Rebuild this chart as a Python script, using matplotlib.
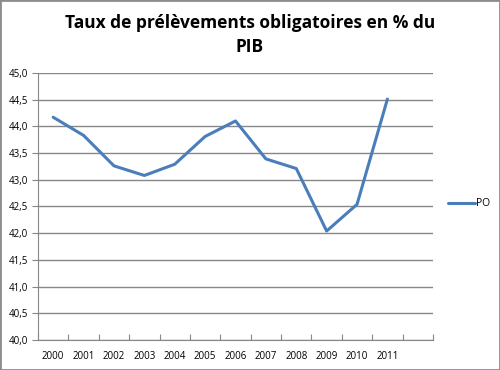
import numpy as np
import matplotlib.pyplot as plt

# PO values
years = ['2000', '2001', '2002', '2003', '2004', '2005',
         '2006', '2007', '2008', '2009', '2010', '2011']
po = [44.17, 43.83, 43.26, 43.08, 43.29, 43.81,
      44.10, 43.39, 43.21, 42.04, 42.54, 44.51]
yticks = [40.0, 40.5, 41.0, 41.5, 42.0, 42.5, 43.0, 43.5, 44.0, 44.5, 45.0]

plt.rcParams['font.family'] = ['Open Sans', 'DejaVu Sans']

fig = plt.figure(figsize=(5, 3.7), dpi=100)
ax = fig.add_axes([0.076, 0.081, 0.79, 0.722])

grey = '#878787'
x = np.arange(len(years)) + 0.5   # one spare category slot at the right
ax.plot(x, po, color='#4a7ebb', lw=2.2, label='PO', solid_capstyle='round')

ax.set_xlim(0, len(years) + 1)
ax.set_ylim(40, 45)
ax.set_yticks(yticks)
ax.set_yticklabels([('%.1f' % v).replace('.', ',') for v in yticks], fontsize=7)
ax.yaxis.grid(True, color=grey, lw=1)
ax.set_axisbelow(True)

ax.set_xticks(np.arange(len(years) + 2))
ax.set_xticklabels([])
ax.set_xticks(x, minor=True)
ax.set_xticklabels(years, minor=True, fontsize=7)
ax.tick_params(axis='x', which='minor', length=0, pad=8)
ax.tick_params(axis='x', which='major', length=4, color=grey, direction='in')
ax.tick_params(axis='y', length=4, color=grey, pad=3)

for s in ['top', 'right']:
    ax.spines[s].set_visible(False)
for s in ['left', 'bottom']:
    ax.spines[s].set_color(grey)

ax.legend(loc='center left', bbox_to_anchor=(1.015, 0.51), frameon=False,
          fontsize=7.5, handlelength=2.6, handletextpad=0.1)

fig.suptitle('Taux de prélèvements obligatoires en % du\nPIB',
             fontsize=12.5, fontweight='bold', x=0.5, y=0.962, linespacing=1.45)

fig.patches.append(plt.Rectangle((0, 0), 1, 1, transform=fig.transFigure,
                                 fill=False, edgecolor='#8c8c8c', lw=2))

fig.savefig('out.png', dpi=100)
